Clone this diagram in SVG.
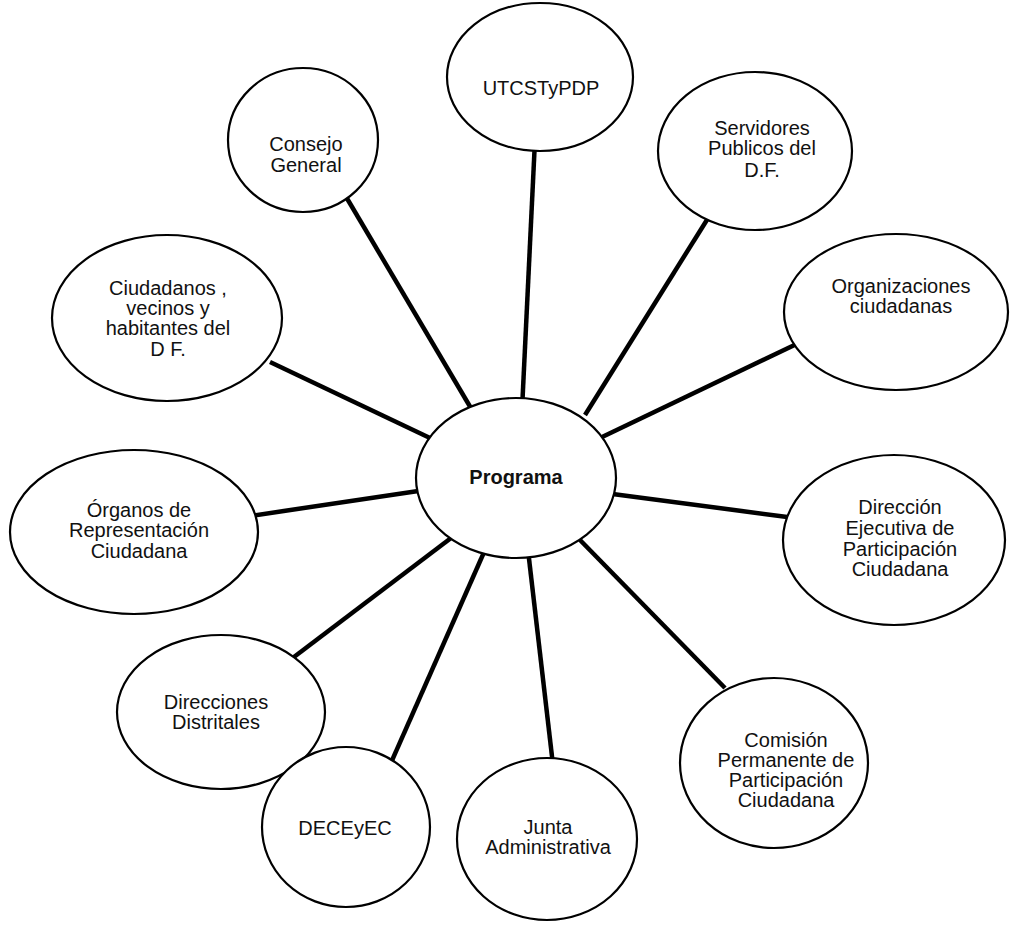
<svg xmlns="http://www.w3.org/2000/svg" width="1011" height="927" viewBox="0 0 1011 927">
<style>
.n ellipse{fill:#fff;stroke:#000;stroke-width:2.2}
.n text{font-family:"Liberation Sans",Arial,sans-serif;font-size:20px;fill:#111;text-anchor:middle}
#prog text{font-weight:bold;font-size:20px}
#edges line{stroke:#000;stroke-width:4.5;stroke-linecap:butt}
</style>
<rect width="1011" height="927" fill="#fff"/>
<g id="edges">
<line x1="345" y1="195" x2="475" y2="415"/>
<line x1="535" y1="140" x2="522" y2="410"/>
<line x1="710" y1="215" x2="585" y2="415"/>
<line x1="805" y1="340" x2="600" y2="438"/>
<line x1="270" y1="362" x2="430" y2="438"/>
<line x1="795" y1="518" x2="605" y2="493"/>
<line x1="250" y1="516" x2="425" y2="490"/>
<line x1="725" y1="688" x2="580" y2="540"/>
<line x1="290" y1="660" x2="455" y2="535"/>
<line x1="553" y1="765" x2="528" y2="550"/>
<line x1="390" y1="765" x2="485" y2="550"/>
</g>
<g id="prog" class="n"><ellipse cx="516" cy="478" rx="100" ry="80"/><text x="516" y="484">Programa</text></g>
<g id="utc" class="n"><ellipse cx="540" cy="77" rx="93" ry="74"/><text x="541" y="95">UTCSTyPDP</text></g>
<g id="consejo" class="n"><ellipse cx="303" cy="140" rx="75" ry="72"/><text x="306" y="151">Consejo</text><text x="306" y="172">General</text></g>
<g id="servidores" class="n"><ellipse cx="755" cy="151" rx="97" ry="79"/><text x="762" y="135">Servidores</text><text x="762" y="155">Publicos del</text><text x="762" y="177">D.F.</text></g>
<g id="organizaciones" class="n"><ellipse cx="896" cy="312" rx="112" ry="78"/><text x="901" y="293">Organizaciones</text><text x="901" y="313">ciudadanas</text></g>
<g id="ciudadanos" class="n"><ellipse cx="167" cy="318" rx="115" ry="83"/><text x="168" y="295">Ciudadanos ,</text><text x="168" y="315">vecinos y</text><text x="168" y="335">habitantes del</text><text x="168" y="356">D F.</text></g>
<g id="organos" class="n"><ellipse cx="134" cy="532" rx="124" ry="82"/><text x="139" y="517">Órganos de</text><text x="139" y="537">Representación</text><text x="139" y="558">Ciudadana</text></g>
<g id="direccion" class="n"><ellipse cx="894" cy="540" rx="111" ry="85"/><text x="900" y="514">Dirección</text><text x="900" y="535">Ejecutiva de</text><text x="900" y="556">Participación</text><text x="900" y="576">Ciudadana</text></g>
<g id="direcciones" class="n"><ellipse cx="221" cy="712" rx="104" ry="77"/><text x="216" y="709">Direcciones</text><text x="216" y="729">Distritales</text></g>
<g id="comision" class="n"><ellipse cx="774" cy="763" rx="94" ry="85"/><text x="786" y="747">Comisión</text><text x="786" y="767">Permanente de</text><text x="786" y="787">Participación</text><text x="786" y="807">Ciudadana</text></g>
<g id="decey" class="n"><ellipse cx="346" cy="827" rx="84" ry="80"/><text x="345" y="835">DECEyEC</text></g>
<g id="junta" class="n"><ellipse cx="547" cy="839" rx="90" ry="81"/><text x="548" y="834">Junta</text><text x="548" y="854">Administrativa</text></g>
</svg>
